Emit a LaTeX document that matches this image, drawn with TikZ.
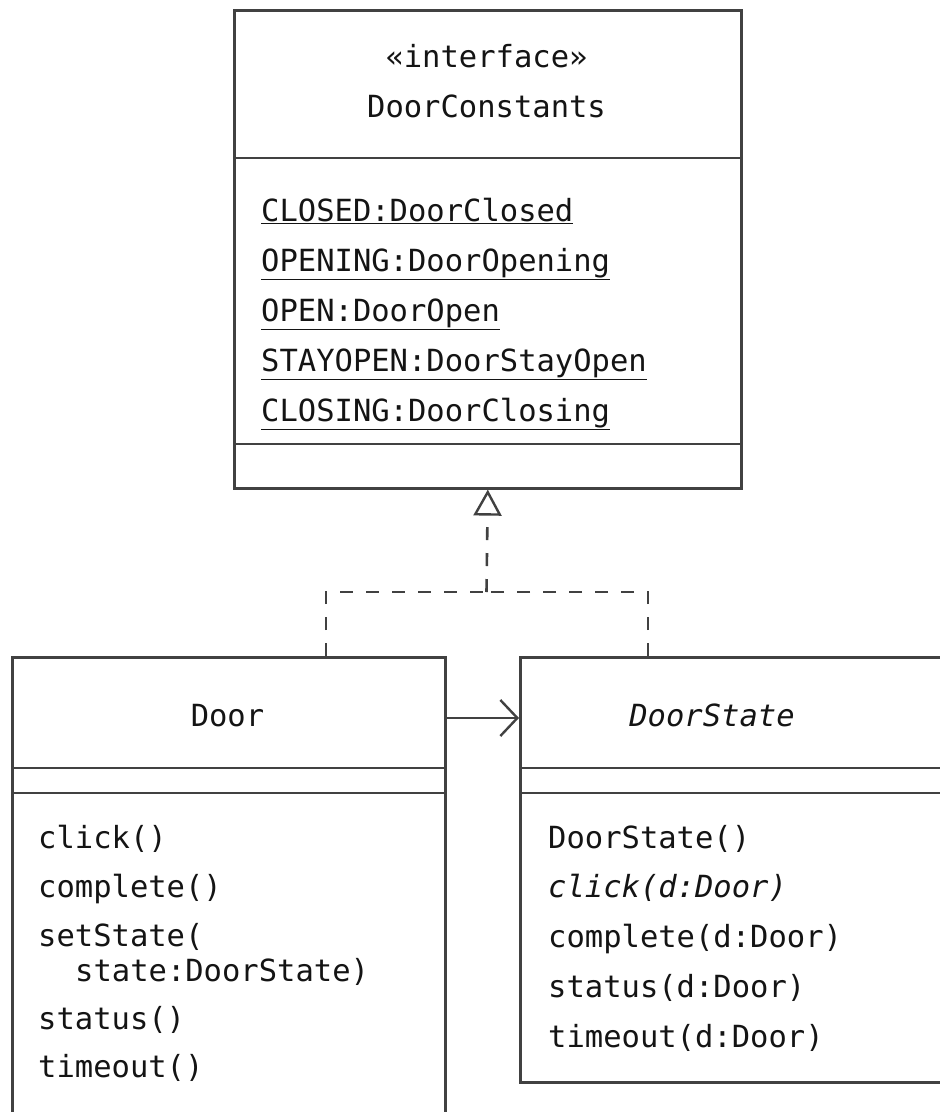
\documentclass[tikz,border=0pt]{standalone}
\usepackage{fontspec}
\newfontfamily\umlfont{DejaVu Sans Mono}
\usetikzlibrary{arrows.meta}
\definecolor{linegray}{RGB}{65,65,65}
\definecolor{textblack}{RGB}{20,20,20}
\tikzset{
  classbox/.style={draw=linegray, line width=2.6pt, rectangle, inner sep=0pt, anchor=north west},
  divider/.style={draw=linegray, line width=2.6pt},
  umltext/.style={font=\umlfont\fontsize{30.5}{36}\selectfont, text=textblack, inner sep=0pt},
  member/.style={umltext, anchor=base west},
  title/.style={umltext, anchor=base},
  realiz/.style={draw=linegray, line width=2.6pt, dash pattern=on 13pt off 13pt},
  assoc/.style={draw=linegray, line width=2.4pt, -{Straight Barb[length=17pt, width=36pt, line width=2.4pt]}},
}
\begin{document}
\begin{tikzpicture}[x=1pt, y=-1pt]
\useasboundingbox (0,0) rectangle (940,1112);
\clip (0,0) rectangle (940,1112);
\fill[white] (0,0) rectangle (940,1112);

% DoorConstants
\node[classbox, minimum width=507pt, minimum height=478pt] (dc) at (233,9) {};
\draw[divider] (233,158) -- (740,158);
\draw[divider] (233,444) -- (740,444);
\node[title] (dcst) at (486.5,67) {«interface»};
\node[title] (dcname) at (486.5,117) {DoorConstants};
\node[member] (a1) at (261,221) {\underline{CLOSED:DoorClosed}};
\node[member] (a2) at (261,271) {\underline{OPENING:DoorOpening}};
\node[member] (a3) at (261,321) {\underline{OPEN:DoorOpen}};
\node[member] (a4) at (261,371) {\underline{STAYOPEN:DoorStayOpen}};
\node[member] (a5) at (261,421) {\underline{CLOSING:DoorClosing}};

% Door
\node[classbox, minimum width=433pt, minimum height=500pt] (door) at (11,656) {};
\draw[divider] (11,768) -- (444,768);
\draw[divider] (11,793) -- (444,793);
\node[title] (doorname) at (227.5,726) {Door};
\node[member] (m1) at (38,848) {click()};
\node[member] (m2) at (38,897) {complete()};
\node[member] (m3) at (38,946) {setState(};
\node[member] (m3b) at (75,981) {state:DoorState)};
\node[member] (m4) at (38,1029) {status()};
\node[member] (m5) at (38,1077) {timeout()};

% DoorState
\node[classbox, minimum width=441pt, minimum height=425pt] (ds) at (519,656) {};
\draw[divider] (519,768) -- (960,768);
\draw[divider] (519,793) -- (960,793);
\node[title] (dsname) at (712,726) {\itshape DoorState};
\node[member] (s1) at (548,848) {DoorState()};
\node[member] (s2) at (548,897) {\itshape click(d:Door)};
\node[member] (s3) at (548,947) {complete(d:Door)};
\node[member] (s4) at (548,997) {status(d:Door)};
\node[member] (s5) at (548,1047) {timeout(d:Door)};

% association
\draw[assoc] ([yshift=-62pt]door.north east) -- ([yshift=-62pt]ds.north west);

% realization
\coordinate (mid) at (486.5,592);
\draw[realiz] ([xshift=315pt]door.north west) |- (mid);
\draw[realiz] ([xshift=129pt]ds.north west) |- (mid);
\draw[realiz, -{Triangle[open, length=26pt, width=28pt, line width=2.4pt, fill=white]}] (mid) -- (dc.south);
\end{tikzpicture}
\end{document}
